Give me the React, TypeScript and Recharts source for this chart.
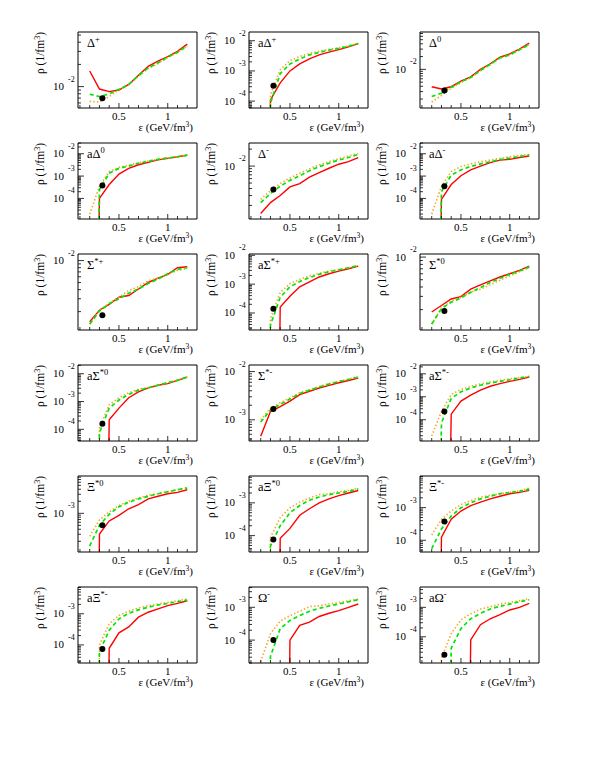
import React from 'react';
import { ComposedChart, Line, Scatter, XAxis, YAxis, ReferenceArea } from 'recharts';

// energy density grid (GeV/fm^3) shared by all curves
const EPS = [0.2, 0.3, 0.4, 0.5, 0.6, 0.7, 0.8, 0.9, 1.0, 1.1, 1.2];
const EPS_TICKS = [0.1, 0.2, 0.3, 0.4, 0.5, 0.6, 0.7, 0.8, 0.9, 1.0, 1.1, 1.2];
const EPS_LABELS: Record<string, string> = { '0.5': '0.5', '1': '1' };
const EPS_DOMAIN = [0.08, 1.3];
const DOT_EPS = 0.33;

// Delta+
const deltaPRed = [0.0163, 0.00927, 0.00855, 0.009, 0.0107, 0.0143, 0.0188, 0.0221, 0.0255, 0.03, 0.0376];
const deltaPGreen = [0.00787, 0.00733, 0.00796, 0.00919, 0.0107, 0.0141, 0.0179, 0.021, 0.0252, 0.0292, 0.0358];
const deltaPOrange = [0.0063, 0.0062, 0.00733, 0.009, 0.0105, 0.0138, 0.0176, 0.0205, 0.0248, 0.029, 0.0355];
// anti Delta+
const aDeltaPRed = [0, 1.1e-4, 4e-4, 1e-3, 1.7e-3, 2.5e-3, 3.4e-3, 4.2e-3, 5.1e-3, 6.3e-3, 8e-3];
const aDeltaPGreen = [0, 8.5e-5, 8.1e-4, 1.7e-3, 2.5e-3, 3.4e-3, 4.1e-3, 4.9e-3, 5.6e-3, 6.6e-3, 8.1e-3];
const aDeltaPOrange = [0, 1.6e-4, 1.1e-3, 2.2e-3, 3e-3, 3.8e-3, 4.5e-3, 5.2e-3, 5.8e-3, 6.8e-3, 8.2e-3];
// Delta0
const delta0Red = [0.0039, 0.00344, 0.0039, 0.00527, 0.00667, 0.01, 0.01355, 0.0193, 0.0231, 0.0301, 0.0414];
const delta0Green = [0.00229, 0.00274, 0.00378, 0.0051, 0.00643, 0.0095, 0.0131, 0.0187, 0.0219, 0.029, 0.0386];
const delta0Orange = [0.0017, 0.00242, 0.00358, 0.0049, 0.0063, 0.0093, 0.0129, 0.0184, 0.0216, 0.0287, 0.0382];
// anti Delta0
const aDelta0Red = [0, 1e-4, 4.2e-4, 1.23e-3, 2.2e-3, 3.2e-3, 4.1e-3, 5.3e-3, 6.2e-3, 7.3e-3, 8.6e-3];
const aDelta0Green = [0, 2.5e-4, 1.35e-3, 2.2e-3, 2.8e-3, 3.7e-3, 4.6e-3, 5.6e-3, 6.4e-3, 7.3e-3, 8.6e-3];
const aDelta0Orange = [2e-5, 3.5e-4, 1.6e-3, 2.5e-3, 3.1e-3, 3.9e-3, 4.7e-3, 5.7e-3, 6.5e-3, 7.4e-3, 8.7e-3];
// Delta-
const deltaMRed = [1.44e-3, 2.25e-3, 3.01e-3, 4.27e-3, 4.89e-3, 6.38e-3, 7.69e-3, 9.16e-3, 1.08e-2, 1.2e-2, 1.41e-2];
const deltaMGreen = [2.25e-3, 3.27e-3, 4.39e-3, 5.58e-3, 6.73e-3, 8.24e-3, 9.8e-3, 1.12e-2, 1.28e-2, 1.42e-2, 1.61e-2];
const deltaMOrange = [2.57e-3, 3.68e-3, 4.89e-3, 6.14e-3, 7.48e-3, 8.93e-3, 1.05e-2, 1.2e-2, 1.35e-2, 1.51e-2, 1.67e-2];
// anti Delta-
const aDeltaMRed = [0, 9e-5, 4.2e-4, 1.04e-3, 1.9e-3, 2.8e-3, 4e-3, 5.2e-3, 5.6e-3, 6.8e-3, 7.9e-3];
const aDeltaMGreen = [0, 2e-4, 1.1e-3, 1.9e-3, 2.7e-3, 3.5e-3, 4.4e-3, 5.4e-3, 6.4e-3, 7.5e-3, 8.6e-3];
const aDeltaMOrange = [2e-5, 3.5e-4, 1.6e-3, 2.7e-3, 3.5e-3, 4.4e-3, 5.2e-3, 6.2e-3, 7.3e-3, 8.3e-3, 9.5e-3];
// Sigma*+
const sigPRed = [1.45e-3, 2.09e-3, 2.51e-3, 3.15e-3, 3.32e-3, 4.08e-3, 5.01e-3, 5.73e-3, 6.49e-3, 7.97e-3, 8.22e-3];
const sigPGreen = [1.35e-3, 2.04e-3, 2.56e-3, 2.99e-3, 3.57e-3, 4.08e-3, 4.85e-3, 5.56e-3, 6.62e-3, 7.57e-3, 7.97e-3];
const sigPOrange = [1.34e-3, 2.09e-3, 2.61e-3, 3.15e-3, 3.88e-3, 4.39e-3, 5.29e-3, 5.73e-3, 6.49e-3, 7.33e-3, 7.8e-3];
// anti Sigma*+
const aSigPRed = [0, 0, 1.6e-4, 3.8e-4, 8.1e-4, 1.2e-3, 1.77e-3, 2.3e-3, 2.84e-3, 3.41e-3, 4.2e-3];
const aSigPGreen = [0, 3.8e-5, 3.5e-4, 8.1e-4, 1.23e-3, 1.69e-3, 2.19e-3, 2.69e-3, 3.15e-3, 3.69e-3, 4.43e-3];
const aSigPOrange = [0, 6.4e-5, 5.2e-4, 1.05e-3, 1.47e-3, 1.92e-3, 2.37e-3, 2.84e-3, 3.24e-3, 3.69e-3, 4.43e-3];
// Sigma*0
const sig0Red = [1.86e-3, 2.27e-3, 2.77e-3, 2.98e-3, 3.75e-3, 4.27e-3, 4.82e-3, 5.43e-3, 6.0e-3, 6.64e-3, 7.57e-3];
const sig0Green = [1.28e-3, 2.06e-3, 2.51e-3, 2.86e-3, 3.4e-3, 3.94e-3, 4.58e-3, 5.22e-3, 5.89e-3, 6.52e-3, 7.35e-3];
const sig0Orange = [1.28e-3, 2.12e-3, 2.59e-3, 2.92e-3, 3.4e-3, 3.75e-3, 4.27e-3, 4.92e-3, 5.6e-3, 6.38e-3, 7.35e-3];
// anti Sigma*0
const aSig0Red = [0, 0, 2.2e-4, 5.8e-4, 1.37e-3, 2.24e-3, 3.09e-3, 3.85e-3, 4.39e-3, 5.75e-3, 7.58e-3];
const aSig0Green = [0, 7.6e-5, 5.8e-4, 1.13e-3, 1.8e-3, 2.56e-3, 3.09e-3, 3.85e-3, 4.76e-3, 5.75e-3, 7.58e-3];
const aSig0Orange = [0, 1.13e-4, 7.6e-4, 1.37e-3, 2.07e-3, 2.77e-3, 3.2e-3, 3.95e-3, 4.85e-3, 5.85e-3, 7.65e-3];
// Sigma*-
const sigMRed = [4.58e-4, 1.48e-3, 1.88e-3, 2.45e-3, 3.34e-3, 3.91e-3, 4.57e-3, 5.19e-3, 5.87e-3, 6.55e-3, 7.33e-3];
const sigMGreen = [8.97e-4, 1.6e-3, 2.09e-3, 2.69e-3, 3.51e-3, 4.09e-3, 4.79e-3, 5.52e-3, 6.24e-3, 6.86e-3, 7.67e-3];
const sigMOrange = [1e-3, 1.73e-3, 2.26e-3, 2.86e-3, 3.62e-3, 4.2e-3, 4.9e-3, 5.6e-3, 6.3e-3, 7e-3, 7.9e-3];
// anti Sigma*-
const aSigMRed = [0, 0, 1.75e-4, 6.5e-4, 1.17e-3, 1.93e-3, 2.86e-3, 3.71e-3, 4.67e-3, 5.69e-3, 7.2e-3];
const aSigMGreen = [0, 7.2e-5, 8.5e-4, 1.64e-3, 2.42e-3, 3.16e-3, 3.98e-3, 4.67e-3, 5.52e-3, 6.53e-3, 7.66e-3];
const aSigMOrange = [1.95e-5, 2.28e-4, 1.26e-3, 2.07e-3, 2.86e-3, 3.63e-3, 4.4e-3, 5.16e-3, 6.1e-3, 6.93e-3, 7.9e-3];
// Xi*0
const xi0Red = [0, 3.04e-4, 6.45e-4, 8.93e-4, 1.3e-3, 1.66e-3, 2.29e-3, 2.67e-3, 3.09e-3, 3.34e-3, 3.88e-3];
const xi0Green = [1.52e-4, 5.06e-4, 9.44e-4, 1.46e-3, 1.9e-3, 2.29e-3, 2.67e-3, 3.09e-3, 3.47e-3, 3.88e-3, 4.28e-3];
const xi0Orange = [2.67e-4, 6.84e-4, 1.08e-3, 1.57e-3, 2e-3, 2.42e-3, 2.82e-3, 3.09e-3, 3.47e-3, 3.88e-3, 4.43e-3];
// anti Xi*0
const aXi0Red = [0, 0, 8.3e-5, 1.66e-4, 4.18e-4, 6.6e-4, 1e-3, 1.32e-3, 1.66e-3, 2e-3, 2.39e-3];
const aXi0Green = [0, 4.8e-5, 2e-4, 5e-4, 8.3e-4, 1.2e-3, 1.51e-3, 1.78e-3, 2e-3, 2.23e-3, 2.64e-3];
const aXi0Orange = [0, 8.9e-5, 3.56e-4, 7.1e-4, 1.05e-3, 1.41e-3, 1.78e-3, 1.9e-3, 2.19e-3, 2.39e-3, 2.82e-3];
// Xi*-
const xiMRed = [0, 1.24e-4, 4.4e-4, 7.87e-4, 1.16e-3, 1.47e-3, 1.85e-3, 2.23e-3, 2.67e-3, 2.93e-3, 3.37e-3];
const xiMGreen = [5.5e-5, 2.21e-4, 5.55e-4, 9.9e-4, 1.41e-3, 1.85e-3, 2.23e-3, 2.67e-3, 2.93e-3, 3.14e-3, 3.71e-3];
const xiMOrange = [1.45e-4, 4.4e-4, 7.87e-4, 1.25e-3, 1.65e-3, 2.08e-3, 2.39e-3, 2.67e-3, 2.93e-3, 3.3e-3, 3.98e-3];
// anti Xi*-
const aXiMRed = [0, 0, 7.8e-5, 2.45e-4, 3.78e-4, 7.8e-4, 1.12e-3, 1.43e-3, 1.82e-3, 2.15e-3, 2.62e-3];
const aXiMGreen = [0, 6.1e-5, 2.96e-4, 6.9e-4, 1.04e-3, 1.33e-3, 1.62e-3, 1.91e-3, 2.15e-3, 2.44e-3, 2.75e-3];
const aXiMOrange = [0, 1e-4, 4.8e-4, 8.8e-4, 1.21e-3, 1.54e-3, 1.82e-3, 2.06e-3, 2.32e-3, 2.62e-3, 2.97e-3];
// Omega-
const omMRed = [0, 0, 0, 1e-4, 2.82e-4, 3.55e-4, 5.25e-4, 6.6e-4, 7.96e-4, 1e-3, 1.26e-3];
const omMGreen = [0, 3.2e-5, 2.24e-4, 3.98e-4, 5.6e-4, 7.6e-4, 9.3e-4, 1.1e-3, 1.26e-3, 1.48e-3, 1.7e-3];
const omMOrange = [2.2e-5, 1.58e-4, 3.8e-4, 5.6e-4, 7.6e-4, 1.05e-3, 1.12e-3, 1.26e-3, 1.41e-3, 1.58e-3, 1.78e-3];
// anti Omega-
const aOmMRed = [0, 0, 0, 0, 7.8e-5, 2.57e-4, 4.09e-4, 5.7e-4, 8.15e-4, 1e-3, 1.36e-3];
const aOmMGreen = [0, 0, 4.1e-5, 1.9e-4, 4.09e-4, 6.3e-4, 8.8e-4, 1.08e-3, 1.29e-3, 1.55e-3, 1.81e-3];
const aOmMOrange = [0, 1.9e-5, 1.29e-4, 3.78e-4, 6e-4, 8.8e-4, 1.05e-3, 1.29e-3, 1.47e-3, 1.67e-3, 1.99e-3];

// black marker (one per panel, at DOT_EPS)
const dotRho = [
  6.98e-3, 3.2e-4, 3.16e-3,
  3.8e-4, 3.84e-3, 3.5e-4,
  1.79e-3, 1.39e-4, 1.92e-3,
  1.57e-4, 1.68e-3, 2.28e-4,
  5.06e-4, 7.6e-5, 3.75e-4,
  7.4e-5, 1e-4, 2.45e-5,
];

// y ranges of the panels
const yRanges: number[][] = [
  [5.13e-3, 5.5e-2], [5.9e-5, 1.95e-2], [1.23e-3, 7.59e-2],
  [1.2e-5, 3.02e-2], [1.15e-3, 2.57e-2], [1.2e-5, 3.02e-2],
  [1.12e-3, 1.23e-2], [2.57e-5, 1.11e-2], [1.07e-3, 1.1e-2],
  [3.8e-5, 2.06e-2], [3.63e-4, 1.37e-2], [1.18e-5, 2.42e-2],
  [1.08e-4, 8.57e-3], [3.16e-5, 6.6e-3], [4.37e-5, 9.33e-3],
  [2.63e-5, 7.24e-3], [2e-5, 4.17e-3], [1.29e-5, 4.9e-3],
];

// panel labels: prefix, symbol, superscript
const labels = [
  ['', 'Δ', '+'], ['a', 'Δ', '+'], ['', 'Δ', '0'],
  ['a', 'Δ', '0'], ['', 'Δ', '-'], ['a', 'Δ', '-'],
  ['', 'Σ', '*+'], ['a', 'Σ', '*+'], ['', 'Σ', '*0'],
  ['a', 'Σ', '*0'], ['', 'Σ', '*-'], ['a', 'Σ', '*-'],
  ['', 'Ξ', '*0'], ['a', 'Ξ', '*0'], ['', 'Ξ', '*-'],
  ['a', 'Ξ', '*-'], ['', 'Ω', '-'], ['a', 'Ω', '-'],
];

const redSeries = [deltaPRed, aDeltaPRed, delta0Red, aDelta0Red, deltaMRed, aDeltaMRed, sigPRed, aSigPRed, sig0Red, aSig0Red, sigMRed, aSigMRed, xi0Red, aXi0Red, xiMRed, aXiMRed, omMRed, aOmMRed];
const greenSeries = [deltaPGreen, aDeltaPGreen, delta0Green, aDelta0Green, deltaMGreen, aDeltaMGreen, sigPGreen, aSigPGreen, sig0Green, aSig0Green, sigMGreen, aSigMGreen, xi0Green, aXi0Green, xiMGreen, aXiMGreen, omMGreen, aOmMGreen];
const orangeSeries = [deltaPOrange, aDeltaPOrange, delta0Orange, aDelta0Orange, deltaMOrange, aDeltaMOrange, sigPOrange, aSigPOrange, sig0Orange, aSig0Orange, sigMOrange, aSigMOrange, xi0Orange, aXi0Orange, xiMOrange, aXiMOrange, omMOrange, aOmMOrange];

const COL_X = [78, 249, 420];
const ROW_Y = [32, 143, 254, 365, 476, 587];
const FRAME_W = 119;
const FRAME_H = 76;
const PAD_L = 60;
const PAD_T = 10;
const PAD_R = 10;
const PAD_B = 30;
const FONT = '"Liberation Serif", "Times New Roman", serif';

// zero density cannot sit on a log axis, push it far below the frame
const FLOOR = 1e-30;
const toPoints = (vals: number[]) => vals.map((v, i) => ({ x: EPS[i], y: v > 0 ? v : FLOOR }));

const logTicks = ([lo, hi]: number[]) => {
  const out: number[] = [];
  for (let e = Math.floor(Math.log10(lo)); e <= Math.ceil(Math.log10(hi)); e++) {
    for (let m = 1; m <= 9; m++) {
      const v = m * Math.pow(10, e);
      if (v >= lo && v <= hi) out.push(v);
    }
  }
  return out;
};

const YTick = ({ x, y, payload }: any) => {
  const lg = Math.log10(payload.value);
  const e = Math.round(lg);
  const major = Math.abs(lg - e) < 1e-6;
  return (
    <g>
      <line x1={x} x2={x + (major ? 6 : 3)} y1={y} y2={y} stroke="#000" strokeWidth={0.8} />
      {major && (
        <>
          <text x={x - 14} y={y + 3.5} textAnchor="end" fontSize={11} fontFamily={FONT} fill="#000">10</text>
          <text x={x - 10} y={y - 5} textAnchor="start" fontSize={8} fontFamily={FONT} fill="#000">{e}</text>
        </>
      )}
    </g>
  );
};

const XTick = ({ x, y, payload }: any) => {
  const label = EPS_LABELS[String(payload.value)];
  return (
    <g>
      <line x1={x} x2={x} y1={y} y2={y - (label ? 5 : 3)} stroke="#000" strokeWidth={0.8} />
      {label && (
        <text x={x} y={y + 12} textAnchor="middle" fontSize={11} fontFamily={FONT} fill="#000">{label}</text>
      )}
    </g>
  );
};

const Panel = ({ i }: { i: number }) => {
  const col = i % 3;
  const row = Math.floor(i / 3);
  const w = PAD_L + FRAME_W + PAD_R;
  const h = PAD_T + FRAME_H + PAD_B;
  const domain = yRanges[i];
  const [pre, sym, sup] = labels[i];
  return (
    <div style={{ position: 'absolute', left: COL_X[col] - PAD_L, top: ROW_Y[row] - PAD_T, width: w, height: h }}>
      <ComposedChart width={w} height={h} margin={{ top: PAD_T, right: PAD_R, left: 0, bottom: 0 }}>
        <XAxis
          type="number"
          dataKey="x"
          domain={EPS_DOMAIN}
          ticks={EPS_TICKS}
          interval={0}
          height={PAD_B}
          tickSize={0}
          tickMargin={0}
          axisLine={false}
          tickLine={false}
          allowDataOverflow
          tick={(p: any) => <XTick {...p} />}
        />
        <YAxis
          type="number"
          dataKey="y"
          scale="log"
          domain={domain}
          ticks={logTicks(domain)}
          interval={0}
          width={PAD_L}
          tickSize={0}
          tickMargin={0}
          axisLine={false}
          tickLine={false}
          allowDataOverflow
          tick={(p: any) => <YTick {...p} />}
        />
        <Line data={toPoints(redSeries[i])} dataKey="y" type="linear" stroke="#ff0000" strokeWidth={1.4} dot={false} isAnimationActive={false} />
        <Line data={toPoints(orangeSeries[i])} dataKey="y" type="linear" stroke="#f5a623" strokeWidth={1.6} strokeDasharray="1.4 2.2" dot={false} isAnimationActive={false} />
        <Line data={toPoints(greenSeries[i])} dataKey="y" type="linear" stroke="#00e600" strokeWidth={1.7} strokeDasharray="4 3" dot={false} isAnimationActive={false} />
        <Scatter
          data={[{ x: DOT_EPS, y: dotRho[i] }]}
          dataKey="y"
          isAnimationActive={false}
          shape={(p: any) => <circle cx={p.cx} cy={p.cy} r={3} fill="#000" />}
        />
        <ReferenceArea x1={EPS_DOMAIN[0]} x2={EPS_DOMAIN[1]} y1={domain[0]} y2={domain[1]} fill="none" stroke="#000" strokeWidth={1} ifOverflow="visible" />
      </ComposedChart>
      <svg width={w} height={h} style={{ position: 'absolute', left: 0, top: 0, pointerEvents: 'none' }} fontFamily={FONT}>
        <text x={PAD_L + 9} y={PAD_T + 15} fontSize={12.5} fill="#000">
          {pre}{sym}<tspan dy={-5} fontSize={8.5}>{sup}</tspan>
        </text>
        <text transform={`translate(${PAD_L - 34},${PAD_T}) rotate(-90)`} textAnchor="end" fontSize={11.5} fill="#000">
          ρ (1/fm<tspan dy={-4} fontSize={8}>3</tspan><tspan dy={4}>)</tspan>
        </text>
        <text x={PAD_L + FRAME_W - 4} y={PAD_T + FRAME_H + 23} textAnchor="end" fontSize={11} fill="#000">
          ε (GeV/fm<tspan dy={-4} fontSize={7.5}>3</tspan><tspan dy={4}>)</tspan>
        </text>
      </svg>
    </div>
  );
};

export default function App() {
  return (
    <div style={{ position: 'absolute', left: 0, top: 0, width: 595, height: 770, background: '#fff' }}>
      {labels.map((_, i) => (
        <Panel key={i} i={i} />
      ))}
    </div>
  );
}
